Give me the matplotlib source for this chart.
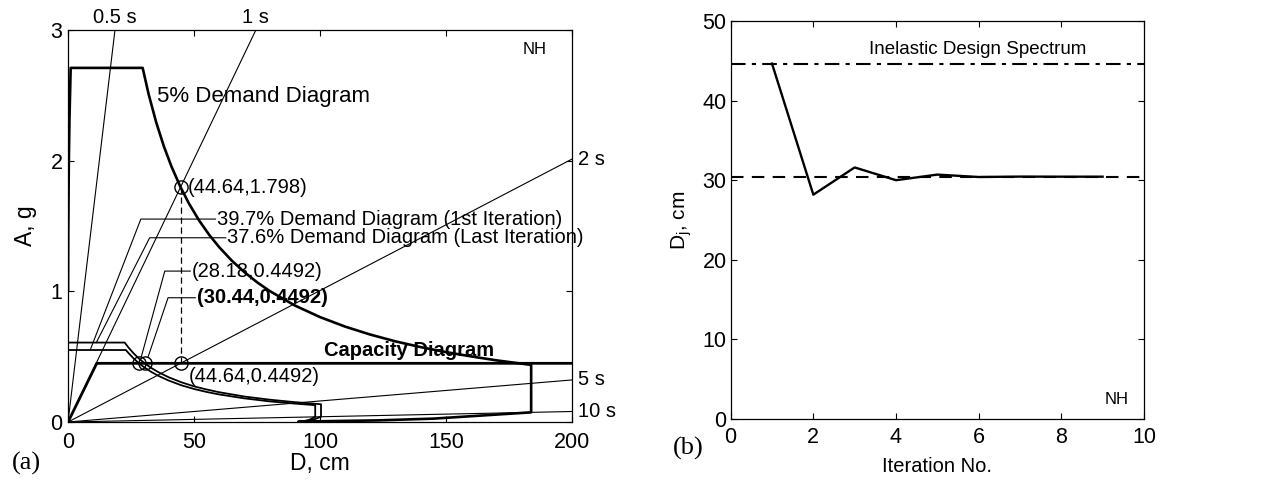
import numpy as np
import matplotlib
matplotlib.use("Agg")
import matplotlib.pyplot as plt

plt.rcParams['font.family'] = ['Liberation Sans', 'DejaVu Sans']
plt.rcParams['mathtext.fontset'] = 'custom'
plt.rcParams['mathtext.rm'] = 'Liberation Sans'
plt.rcParams['mathtext.it'] = 'Liberation Sans'

# ---------------- data: panel (a) ----------------
periods = [0.5, 1, 2, 5, 10]                    # s, radial period lines
period_labels = ['0.5 s', '1 s', '2 s', '5 s', '10 s']
g_cm = 981.0

# 5% elastic demand diagram (D in cm, A in g)
d_5pct = [0, 0.023, 0.088, 0.315, 0.576, 1.05, 29.62, 32, 35, 38, 41, 44.64, 48, 52, 56,
          60, 65, 70, 75, 80, 90, 100, 110, 120, 130, 140, 150, 160, 170, 183.8,
          183.8, 145.0, 122.6, 91.44, 91.44]
a_5pct = [1.0, 1.0, 1.42, 1.98, 2.32, 2.71, 2.71, 2.508, 2.293, 2.112, 1.958, 1.798, 1.672,
          1.543, 1.433, 1.338, 1.235, 1.147, 1.070, 1.003, 0.892, 0.803, 0.730, 0.669,
          0.617, 0.573, 0.535, 0.502, 0.472, 0.437, 0.074, 0.0259, 0.0123, 0.0034, 0.0]

# 37.6% demand diagram (last iteration)
d_376 = [0, 22.48, 24, 26, 28, 30.44, 33, 36, 40, 45, 50, 55, 60, 70, 80, 90, 100.4,
         100.4, 97.3, 95.1, 91.44, 91.44]
a_376 = [0.608, 0.608, 0.570, 0.526, 0.488, 0.4492, 0.414, 0.380, 0.342, 0.304, 0.273,
         0.249, 0.228, 0.195, 0.171, 0.152, 0.136, 0.0404, 0.0174, 0.0096, 0.0034, 0.0]

# 39.7% demand diagram (1st iteration)
d_397 = [0, 22.96, 24, 26, 28.18, 30, 33, 36, 40, 45, 50, 55, 60, 70, 80, 90, 98.1,
         98.1, 95.8, 94.2, 91.44, 91.44]
a_397 = [0.551, 0.551, 0.528, 0.487, 0.4492, 0.422, 0.384, 0.352, 0.317, 0.281, 0.253,
         0.230, 0.211, 0.181, 0.158, 0.141, 0.129, 0.0395, 0.0171, 0.0095, 0.0034, 0.0]

# capacity diagram
d_cap = [0, 11.4, 200]
a_cap = [0, 0.4492, 0.4492]

# marked points
pt_d = [44.64, 44.64, 28.18, 30.44]
pt_a = [1.798, 0.4492, 0.4492, 0.4492]

# ---------------- data: panel (b) ----------------
iterations = [1, 2, 3, 4, 5, 6, 7, 8, 9]
d_iter = [44.64, 28.18, 31.6, 30.0, 30.7, 30.4, 30.45, 30.44, 30.44]
d_design = 44.64
d_final = 30.44

# ---------------- figure ----------------
fig = plt.figure(figsize=(12.81, 4.8), dpi=100)
ax1 = fig.add_axes([0.0531, 0.1208, 0.3934, 0.8167])
ax2 = fig.add_axes([0.5704, 0.1271, 0.3226, 0.8292])

TICK = 15.5
ANN = 14.5

for ax in (ax1, ax2):
    ax.tick_params(direction='in', top=True, right=True, length=4, width=0.8,
                   labelsize=TICK)
    for s in ax.spines.values():
        s.set_linewidth(0.9)

# ---- panel (a) ----
xmax, ymax = 200, 3
for T, lab in zip(periods, period_labels):
    k = (2 * np.pi / T) ** 2 / g_cm
    if k * xmax <= ymax:
        xe, ye = xmax, k * xmax
        ax1.annotate(lab, (xe, ye), xytext=(4, 0), textcoords='offset points',
                     ha='left', va='center', fontsize=ANN, annotation_clip=False)
    else:
        xe, ye = ymax / k, ymax
        ax1.annotate(lab, (xe, ye), xytext=(0, 2), textcoords='offset points',
                     ha='center', va='bottom', fontsize=ANN, annotation_clip=False)
    ax1.plot([0, xe], [0, ye], color='black', lw=0.8)

ax1.plot(d_5pct, a_5pct, color='black', lw=1.9)
ax1.plot(d_376, a_376, color='black', lw=1.3)
ax1.plot(d_397, a_397, color='black', lw=1.3)
ax1.plot(d_cap, a_cap, color='black', lw=2.0)
ax1.plot([pt_d[0], pt_d[1]], [pt_a[0], pt_a[1]], color='black', lw=0.9,
         linestyle=(0, (5, 3)))
ax1.plot(pt_d, pt_a, linestyle='none', marker='o', ms=9.5, mfc='none',
         mec='black', mew=1.0)

# leader lines
ax1.plot([8.8, 28.9, 58.5], [0.551, 1.553, 1.553], color='black', lw=0.8)
ax1.plot([11.2, 32.4, 62.6], [0.607, 1.41, 1.41], color='black', lw=0.8)
ax1.plot([29.1, 38.4, 48.5], [0.50, 1.155, 1.155], color='black', lw=0.8)
ax1.plot([31.8, 39.7, 50.5], [0.50, 0.951, 0.951], color='black', lw=0.8)

ax1.text(35.2, 2.49, '5% Demand Diagram', fontsize=16, ha='left', va='center')
ax1.text(47.5, 1.798, '(44.64,1.798)', fontsize=ANN, ha='left', va='center')
ax1.text(59.0, 1.553, '39.7% Demand Diagram (1st Iteration)', fontsize=ANN,
         ha='left', va='center')
ax1.text(63.0, 1.41, '37.6% Demand Diagram (Last Iteration)', fontsize=ANN,
         ha='left', va='center')
ax1.text(49.0, 1.155, '(28.18,0.4492)', fontsize=ANN, ha='left', va='center')
ax1.text(51.0, 0.951, '(30.44,0.4492)', fontsize=ANN, ha='left', va='center',
         fontweight='bold')
ax1.text(47.8, 0.347, '(44.64,0.4492)', fontsize=ANN, ha='left', va='center')
ax1.text(101.4, 0.545, 'Capacity Diagram', fontsize=ANN, ha='left', va='center',
         fontweight='bold')
ax1.text(185, 2.85, 'NH', fontsize=12, ha='center', va='center')

ax1.set_xlim(0, xmax)
ax1.set_ylim(0, ymax)
ax1.set_xticks([0, 50, 100, 150, 200])
ax1.set_yticks([0, 1, 2, 3])
ax1.tick_params(axis='x', pad=7)
ax1.tick_params(axis='y', pad=4)
ax1.set_xlabel('D, cm', fontsize=16.5)
ax1.set_ylabel('A, g', fontsize=16.5)
ax1.xaxis.set_label_coords(0.5, -0.077)
ax1.yaxis.set_label_coords(-0.062, 0.5)

# ---- panel (b) ----
ax2.axhline(d_design, color='black', lw=1.5, linestyle=(0, (7, 3, 2, 3)))
ax2.axhline(d_final, color='black', lw=1.5, linestyle=(0, (6, 4)))
ax2.plot(iterations, d_iter, color='black', lw=1.7)
ax2.text(5.98, 46.4, 'Inelastic Design Spectrum', fontsize=13.5, ha='center',
         va='center')
ax2.text(9.33, 2.4, 'NH', fontsize=12, ha='center', va='center')
ax2.set_xlim(0, 10)
ax2.set_ylim(0, 50)
ax2.set_xticks([0, 2, 4, 6, 8, 10])
ax2.set_yticks([0, 10, 20, 30, 40, 50])
ax2.tick_params(axis='x', pad=6)
ax2.tick_params(axis='y', pad=3)
ax2.set_xlabel('Iteration No.', fontsize=14.5)
ax2.set_ylabel(r'D$_{\rm j}$, cm', fontsize=15)
ax2.xaxis.set_label_coords(0.5, -0.095)
ax2.yaxis.set_label_coords(-0.088, 0.5)

fig.text(12 / 1281, 0.035, '(a)', family=['Liberation Serif', 'DejaVu Serif'],
         fontsize=19, ha='left', va='center')
fig.text(673 / 1281, 0.0667, '(b)', family=['Liberation Serif', 'DejaVu Serif'],
         fontsize=19, ha='left', va='center')

fig.savefig('out.png', dpi=100)
